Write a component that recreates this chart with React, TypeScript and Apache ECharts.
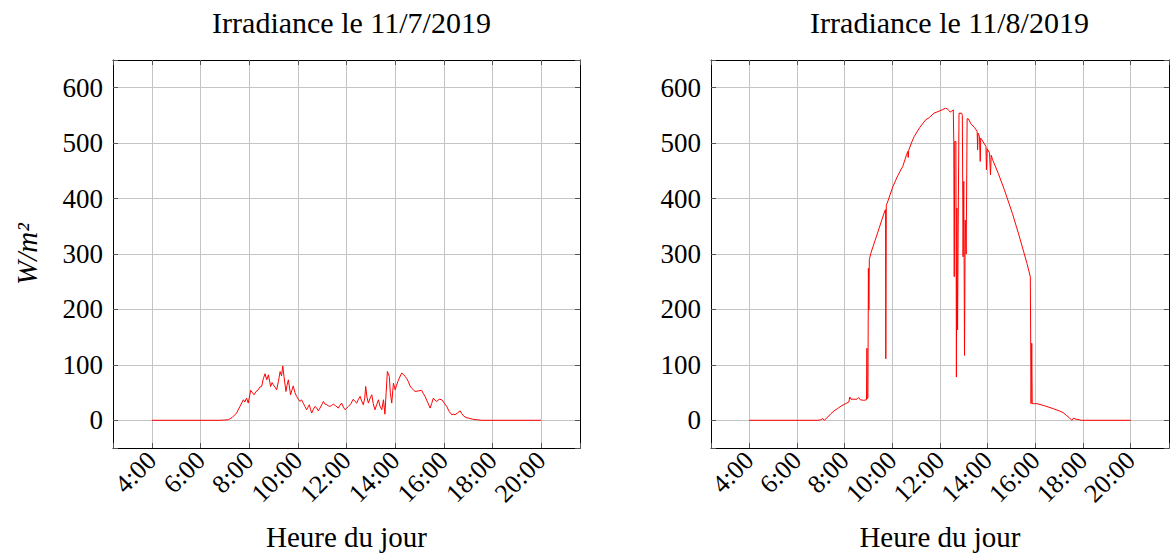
import React, { useEffect, useRef } from "react";
import * as echarts from "echarts";

const titles = ["Irradiance le 11/7/2019", "Irradiance le 11/8/2019"];
const xAxisName = "Heure du jour";
const yAxisName = "W/m²";
const xLabelHours = [4, 6, 8, 10, 12, 14, 16, 18, 20];

// Irradiance 11/7/2019 : [hour, W/m2]
const day1: [number, number][] = [
  [4, 0], [6.8, 0], [7.0, 0.5], [7.14, 1], [7.3, 5], [7.48, 13], [7.62, 25], [7.76, 37], [7.82, 33], [7.89, 40], [7.96, 31],
  [8.06, 54], [8.13, 50], [8.2, 46], [8.28, 52], [8.37, 55], [8.44, 60], [8.51, 61], [8.58, 75], [8.65, 84], [8.72, 73], [8.79, 82],
  [8.88, 61], [8.94, 68], [8.99, 64], [9.06, 60], [9.13, 55], [9.2, 70], [9.27, 88], [9.33, 80], [9.38, 98], [9.43, 79], [9.51, 52],
  [9.56, 64], [9.61, 73], [9.66, 58], [9.7, 46], [9.76, 55], [9.81, 62], [9.88, 50], [9.95, 43], [10.02, 38], [10.09, 34], [10.15, 37],
  [10.22, 31], [10.29, 25], [10.36, 19], [10.42, 24], [10.47, 28], [10.52, 20], [10.57, 13], [10.64, 20], [10.71, 25], [10.78, 22],
  [10.84, 17], [10.91, 22], [10.98, 28], [11.05, 34], [11.12, 29], [11.19, 28], [11.26, 26], [11.32, 25], [11.39, 27], [11.46, 29],
  [11.56, 26], [11.66, 22], [11.73, 27], [11.8, 31], [11.87, 24], [11.94, 19], [12.01, 22], [12.08, 25], [12.18, 30], [12.28, 38],
  [12.35, 34], [12.42, 31], [12.49, 38], [12.56, 43], [12.62, 35], [12.69, 28], [12.75, 40], [12.79, 61], [12.84, 42], [12.9, 31],
  [12.97, 40], [13.04, 46], [13.1, 30], [13.17, 19], [13.24, 28], [13.31, 37], [13.38, 25], [13.45, 19], [13.52, 37], [13.58, 11],
  [13.63, 50], [13.68, 88], [13.72, 84], [13.76, 79], [13.8, 50], [13.86, 31], [13.93, 67], [14.0, 55], [14.05, 62], [14.11, 70],
  [14.19, 78], [14.27, 85], [14.34, 83], [14.41, 79], [14.48, 75], [14.54, 70], [14.61, 62], [14.68, 58], [14.75, 55], [14.82, 52],
  [14.95, 53], [15.09, 54], [15.16, 48], [15.23, 43], [15.33, 33], [15.44, 22], [15.5, 30], [15.57, 40], [15.64, 36], [15.71, 34],
  [15.81, 38], [15.92, 37], [16.02, 31], [16.12, 25], [16.22, 16], [16.33, 10], [16.4, 11], [16.46, 10], [16.56, 13], [16.67, 17],
  [16.74, 12], [16.81, 8], [16.91, 5], [17.01, 4], [17.18, 2], [17.36, 1], [17.56, 0], [20, 0],
];

// Irradiance 11/8/2019 : [hour, W/m2]
const day2: [number, number][] = [
  [4, 0], [6.88, 0], [7.0, 1], [7.09, 3], [7.15, 0], [7.3, 6], [7.43, 12], [7.56, 17], [7.7, 21], [7.87, 26], [8.04, 30], [8.18, 33],
  [8.22, 42], [8.27, 38], [8.38, 38], [8.52, 38], [8.59, 41], [8.66, 37], [8.8, 36], [8.92, 37], [8.94, 130], [8.95, 39], [8.98, 40],
  [9.0, 274], [9.02, 199], [9.04, 290], [9.1, 301], [9.4, 340], [9.69, 378], [9.72, 380], [9.73, 111], [9.75, 388], [9.79, 392],
  [10.03, 422], [10.24, 442], [10.44, 458], [10.6, 479], [10.65, 485], [10.67, 474], [10.69, 487], [10.8, 500], [10.92, 512],
  [11.15, 528], [11.4, 542], [11.55, 546], [11.75, 554], [11.92, 557], [12.09, 560], [12.23, 563], [12.3, 562], [12.4, 558],
  [12.43, 556], [12.5, 558], [12.56, 560], [12.58, 503], [12.6, 259], [12.62, 503], [12.67, 503], [12.69, 78], [12.71, 383],
  [12.74, 163], [12.77, 383], [12.8, 554], [12.91, 554], [12.94, 550], [12.97, 295], [13.0, 431], [13.03, 117], [13.06, 361],
  [13.1, 300], [13.14, 544], [13.19, 544], [13.3, 535], [13.45, 528], [13.56, 521], [13.58, 488], [13.6, 518], [13.66, 512],
  [13.69, 467], [13.71, 509], [13.76, 506], [13.93, 494], [13.95, 452], [13.98, 490], [14.08, 482], [14.12, 443], [14.15, 478],
  [14.21, 470], [14.45, 445], [14.7, 416], [15.04, 373], [15.3, 336], [15.65, 283], [15.79, 259], [15.82, 30], [15.85, 139],
  [15.87, 30], [15.96, 30], [16.07, 30], [16.4, 26], [16.75, 21], [17.0, 17], [17.16, 14], [17.3, 9], [17.44, 4], [17.53, 0],
  [17.6, 4], [17.7, 2], [17.85, 1], [17.92, 0], [20, 0],
];

const FONT = "Liberation Serif";

function fmtHour(v: number): string {
  const r = Math.round(v * 1000) / 1000;
  if (Number.isInteger(r) && xLabelHours.includes(r)) return r + ":00";
  return "";
}
function fmtY(v: number): string {
  const r = Math.round(v);
  if (r % 100 === 0 && r >= 0 && r <= 600) return String(r);
  return "";
}

function makeOption(idx: number, gridLeft: number): any {
  const W = 467;
  const xa = (pos: string, main: boolean): any => ({
    type: "value", gridIndex: 0, position: pos, min: 2.4, max: 21.6, splitNumber: 10, minInterval: 2, maxInterval: 2,
    name: main ? xAxisName : "", nameLocation: "middle", nameGap: 74,
    nameTextStyle: { fontFamily: FONT, fontSize: 29, color: "#000" },
    axisLine: { show: true, onZero: false, lineStyle: { color: "#000", width: 1 } },
    axisTick: { show: true, inside: true, length: 5, lineStyle: { color: "#555", width: 1 } },
    axisLabel: main
      ? { show: true, rotate: 45, margin: 8, padding: [22, 0, 0, 0], fontFamily: FONT, fontSize: 26, color: "#000", formatter: fmtHour }
      : { show: false },
    splitLine: { show: main, lineStyle: { color: "#c4c4c4", width: 1 } },
  });
  const ya = (pos: string, main: boolean): any => ({
    type: "value", gridIndex: 0, position: pos, min: -50, max: 650, splitNumber: 7, minInterval: 100, maxInterval: 100,
    name: main && idx === 0 ? yAxisName : "", nameLocation: "middle", nameRotate: 90, nameGap: 72,
    nameTextStyle: { fontFamily: FONT, fontSize: 29, fontStyle: "italic", color: "#000" },
    axisLine: { show: true, onZero: false, lineStyle: { color: "#000", width: 1 } },
    axisTick: { show: true, inside: true, length: 5, lineStyle: { color: "#555", width: 1 } },
    axisLabel: main ? { show: true, margin: 10, fontFamily: FONT, fontSize: 27, color: "#000", formatter: fmtY } : { show: false },
    splitLine: { show: main, lineStyle: { color: "#c4c4c4", width: 1 } },
  });
  return {
    animation: false,
    title: {
      text: titles[idx], left: gridLeft + W / 2, textAlign: "center", top: 2,
      textStyle: { fontFamily: FONT, fontSize: 30, fontWeight: "normal", color: "#000" },
    },
    grid: [{ left: gridLeft, top: 60, width: W, height: 388 }],
    xAxis: [xa("bottom", true), xa("top", false)],
    yAxis: [ya("left", true), ya("right", false)],
    series: [{
      type: "line", xAxisIndex: 0, yAxisIndex: 0, data: idx === 0 ? day1 : day2,
      showSymbol: false, symbol: "none", lineStyle: { color: "#ff0000", width: 1 }, z: 5,
    }],
  };
}

function Panel({ idx, x, w, gridLeft }: { idx: number; x: number; w: number; gridLeft: number }) {
  const ref = useRef<HTMLDivElement>(null);
  useEffect(() => {
    if (!ref.current) return;
    const chart = echarts.init(ref.current, null, { renderer: "svg" });
    chart.setOption(makeOption(idx, gridLeft));
    return () => chart.dispose();
  }, []);
  return <div ref={ref} style={{ position: "absolute", left: x, top: 0, width: w, height: 556, overflow: "hidden" }} />;
}

export default function App() {
  return (
    <div style={{ position: "absolute", left: 0, top: 0, width: 1171, height: 556, background: "#fff" }}>
      <Panel idx={0} x={0} w={600} gridLeft={113} />
      <Panel idx={1} x={600} w={571} gridLeft={111} />
    </div>
  );
}
